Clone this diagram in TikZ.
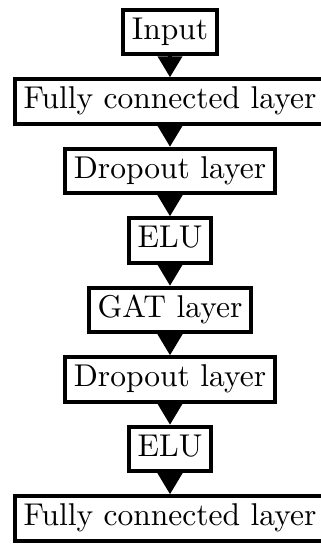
\documentclass[tikz,border=0pt]{standalone}
\usetikzlibrary{positioning,arrows.meta}
\begin{document}
\begin{tikzpicture}[
			>={Triangle[width=8pt,length=7pt]},
			every node/.style = {font=\fontsize{10.5}{12.6}\selectfont},
			layer/.style      = {draw, line width=1.33pt, inner sep=3pt,
			                     text height=1.6ex, text depth=.45ex},
			node distance     = 7pt
			]
			\useasboundingbox (-56.67pt,10.67pt) rectangle (50.33pt,-174pt);
			%--- nodes ---
			\node[layer] (in) at (0,0) {Input};
			\node[layer, below=of in]   (fc1)  {Fully connected layer};
			\node[layer, below=of fc1]  (drop1) {Dropout layer};
			\node[layer, below=of drop1] (elu1) {ELU};
			\node[layer, below=of elu1] (gat)  {GAT layer};
			\node[layer, below=of gat]  (drop2) {Dropout layer};
			\node[layer, below=of drop2] (elu2) {ELU};
			\node[layer, below=of elu2] (fc2)  {Fully connected layer};
			
			%--- arrows ---
			\draw[->, line width=1.33pt] (in) -- (fc1);
			\draw[->, line width=1.33pt] (fc1) -- (drop1);
			\draw[->, line width=1.33pt] (drop1) -- (elu1);
			\draw[->, line width=1.33pt] (elu1) -- (gat);
			\draw[->, line width=1.33pt] (gat) -- (drop2);
			\draw[->, line width=1.33pt] (drop2) -- (elu2);
			\draw[->, line width=1.33pt] (elu2) -- (fc2);
		\end{tikzpicture}
\end{document}
